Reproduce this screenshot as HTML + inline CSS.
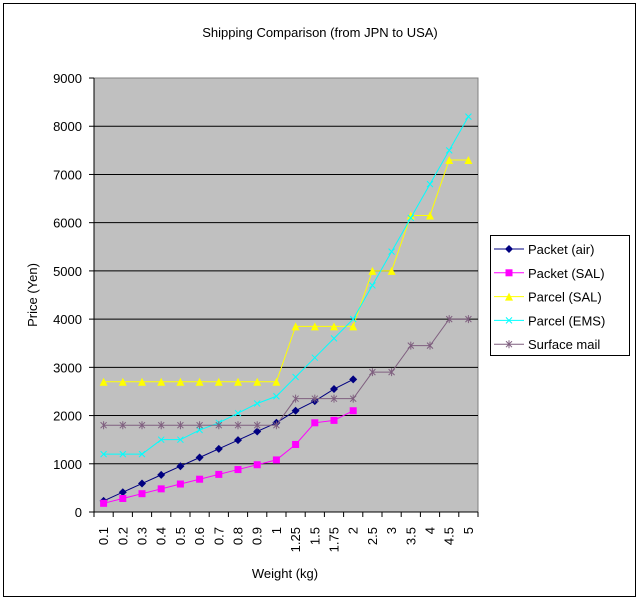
<!DOCTYPE html>
<html><head><meta charset="utf-8"><style>
html,body{margin:0;padding:0;background:#fff;}
svg{display:block;font-family:"Liberation Sans","Noto Sans CJK JP",sans-serif;}
</style></head><body>
<svg id="s" width="640" height="601" viewBox="0 0 640 601" xmlns="http://www.w3.org/2000/svg">
<rect x="3.5" y="3.5" width="632" height="593" fill="#fff" stroke="#000"/>
<text x="320" y="37" font-size="13" text-anchor="middle">Shipping Comparison (from JPN to USA)</text>
<rect x="94" y="78" width="384" height="434" fill="#c0c0c0" stroke="#808080"/>
<g id="g"></g>
<text transform="translate(37,295) rotate(-90)" font-size="13" text-anchor="middle">Price (Yen)</text>
<text x="285" y="578" font-size="13" text-anchor="middle">Weight (kg)</text>
<rect x="490.5" y="235.5" width="139" height="120" fill="#fff" stroke="#000"/>
<g id="lg" font-size="13"></g>
</svg>
<script>
var g=document.getElementById('g'),lg=document.getElementById('lg'),h='';
function Y(v){return 512-v*0.04822;}
var cats=['0.1','0.2','0.3','0.4','0.5','0.6','0.7','0.8','0.9','1','1.25','1.5','1.75','2','2.5','3','3.5','4','4.5','5'];
cats=['0.1','0.2','0.3','0.4','0.5','0.6','0.7','0.8','0.9','1','1.25','1.5','1.75','2','2.5','3','3.5','4','4.5','5'];
var n=cats.length, step=384/n;
function X(i){return 94+step*(i+0.5);}
for(var v=1000;v<9000;v+=1000){h+='<line x1="94" x2="478" y1="'+Y(v)+'" y2="'+Y(v)+'" stroke="#000" stroke-width="1"/>';}
for(var v=0;v<=9000;v+=1000){h+='<line x1="89" x2="94" y1="'+Y(v)+'" y2="'+Y(v)+'" stroke="#000"/><text x="82" y="'+(Y(v)+5)+'" font-size="13" text-anchor="end">'+v+'</text>';}
h+='<line x1="94" x2="94" y1="78" y2="512" stroke="#000"/><line x1="94" x2="478" y1="512" y2="512" stroke="#000"/>';
for(var i=0;i<=n;i++){var x=94+step*i;h+='<line x1="'+x+'" x2="'+x+'" y1="512" y2="517" stroke="#000"/>';}
for(var i=0;i<n;i++){h+='<text transform="translate('+(X(i)+4.5)+',527) rotate(-90)" font-size="13" text-anchor="end">'+cats[i]+'</text>';}
var S=[
{c:'#000080',m:'d',d:[230,410,590,770,950,1130,1310,1490,1670,1850,2100,2300,2550,2750]},
{c:'#ff00ff',m:'s',d:[180,280,380,480,580,680,780,880,980,1080,1400,1850,1900,2100]},
{c:'#ffff00',m:'t',d:[2700,2700,2700,2700,2700,2700,2700,2700,2700,2700,3850,3850,3850,3850,5000,5000,6150,6150,7300,7300]},
{c:'#00ffff',m:'x',d:[1200,1200,1200,1500,1500,1700,1850,2050,2250,2400,2800,3200,3600,4000,4700,5400,6100,6800,7500,8200]},
{c:'#7f5f7f',m:'a',d:[1800,1800,1800,1800,1800,1800,1800,1800,1800,1800,2350,2350,2350,2350,2900,2900,3450,3450,4000,4000]}];
function mk(m,x,y,c){
 if(m=='d')return '<polygon points="'+x+','+(y-4)+' '+(x+4)+','+y+' '+x+','+(y+4)+' '+(x-4)+','+y+'" fill="'+c+'"/>';
 if(m=='s')return '<rect x="'+(x-3.5)+'" y="'+(y-3.5)+'" width="7" height="7" fill="'+c+'"/>';
 if(m=='t')return '<polygon points="'+x+','+(y-4)+' '+(x+4)+','+(y+4)+' '+(x-4)+','+(y+4)+'" fill="'+c+'"/>';
 if(m=='x')return '<path d="M'+(x-3)+' '+(y-3)+'L'+(x+3)+' '+(y+3)+'M'+(x+3)+' '+(y-3)+'L'+(x-3)+' '+(y+3)+'" stroke="'+c+'"/>';
 return '<path d="M'+(x-3)+' '+(y-3)+'L'+(x+3)+' '+(y+3)+'M'+(x+3)+' '+(y-3)+'L'+(x-3)+' '+(y+3)+'M'+x+' '+(y-4)+'L'+x+' '+(y+4)+'" stroke="'+c+'"/>';
}
S.forEach(function(s){var p=s.d.map(function(v,i){return X(i)+','+Y(v);}).join(' ');
 h+='<polyline points="'+p+'" fill="none" stroke="'+s.c+'" stroke-width="1"/>';
 s.d.forEach(function(v,i){h+=mk(s.m,X(i),Y(v),s.c);});});
g.innerHTML=h;
var names=['Packet (air)','Packet (SAL)','Parcel (SAL)','Parcel (EMS)','Surface mail'],l='';
S.forEach(function(s,i){var y=249+i*23.8;l+='<line x1="494" x2="524" y1="'+y+'" y2="'+y+'" stroke="'+s.c+'"/>'+mk(s.m,509,y,s.c)+'<text x="528" y="'+(y+5)+'">'+names[i]+'</text>';});
lg.innerHTML=l;
</script>
</body></html>
